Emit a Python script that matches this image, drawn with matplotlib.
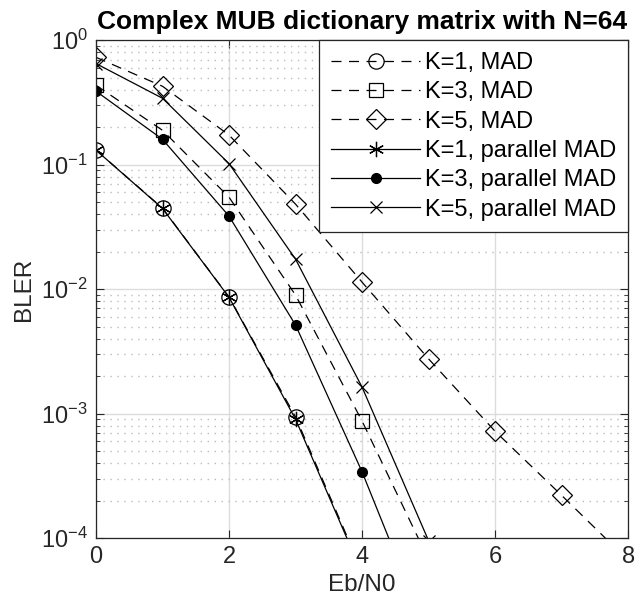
import numpy as np
import matplotlib.pyplot as plt
from matplotlib.ticker import LogLocator, NullFormatter

plt.rcParams['font.family'] = ['Liberation Sans', 'DejaVu Sans']

ebn0 = [0, 1, 2, 3, 4, 5, 6, 7, 8]

# BLER
k1_mad = [0.131, 0.0448, 0.00864, 9.4e-4, 5.4e-5]
k3_mad = [0.435, 0.189, 0.0548, 0.00895, 8.7e-4, 6.7e-5]
k5_mad = [0.73, 0.427, 0.173, 0.0482, 0.01138, 0.00275, 7.2e-4, 2.2e-4, 6.6e-5]
k1_par = [0.131, 0.0445, 0.0086, 9.0e-4, 5.2e-5]
k3_par = [0.39, 0.16, 0.0386, 0.00514, 3.4e-4, 1.6e-5]
k5_par = [0.65, 0.342, 0.102, 0.0174, 1.63e-3, 9.5e-5]

fig = plt.figure(figsize=(6.42, 6.16), dpi=100)
ax = fig.add_axes([0.1495, 0.1266, 0.829, 0.808])

dash = (0, (8, 6))
lw = 0.9
ax.semilogy(ebn0[:len(k1_mad)], k1_mad, color='black', linestyle=dash, lw=lw,
            marker='o', ms=11, mfc='none', mew=0.9, label='K=1, MAD')
ax.semilogy(ebn0[:len(k3_mad)], k3_mad, color='black', linestyle=dash, lw=lw,
            marker='s', ms=10, mfc='none', mew=0.9, label='K=3, MAD')
ax.semilogy(ebn0[:len(k5_mad)], k5_mad, color='black', linestyle=dash, lw=lw,
            marker='D', ms=10, mfc='none', mew=0.9, label='K=5, MAD')
ax.semilogy(ebn0[:len(k1_par)], k1_par, color='black', linestyle='-', lw=lw,
            marker=(6, 2, 0), ms=11, mew=0.9, label='K=1, parallel MAD')
ax.semilogy(ebn0[:len(k3_par)], k3_par, color='black', linestyle='-', lw=lw,
            marker='o', ms=7, label='K=3, parallel MAD')
ax.semilogy(ebn0[:len(k5_par)], k5_par, color='black', linestyle='-', lw=lw,
            marker='x', ms=9, mew=0.9, label='K=5, parallel MAD')

ax.set_xlim(0, 8)
ax.set_ylim(1e-4, 1)
ax.set_xticks([0, 2, 4, 6, 8])
ax.yaxis.set_major_locator(LogLocator(base=10, numticks=10))
ax.yaxis.set_minor_locator(LogLocator(base=10, subs=np.arange(2, 10), numticks=20))
ax.yaxis.set_minor_formatter(NullFormatter())

ax.grid(True, which='major', color='#dcdcdc', linewidth=1)
ax.grid(True, which='minor', axis='y', color='#bbbbbb', linestyle=(0, (1, 4)), linewidth=1)
ax.set_axisbelow(True)

ax.tick_params(which='both', direction='in', top=True, right=True, labelsize=17, colors='#262626')
ax.tick_params(which='major', length=6, pad=6)
ax.tick_params(which='minor', length=3)
for s in ax.spines.values():
    s.set_color('#262626')
    s.set_linewidth(0.9)

ax.set_xlabel('Eb/N0', fontsize=17.5, color='#262626', labelpad=4)
ax.set_ylabel('BLER', fontsize=17.5, color='#262626', labelpad=4)
ax.set_title('Complex MUB dictionary matrix with N=64', fontsize=19, fontweight='bold', pad=8)

leg = ax.legend(loc='upper right', fontsize=17, borderaxespad=0, fancybox=False,
                edgecolor='#262626', framealpha=1, handlelength=3.8,
                labelspacing=0.31, borderpad=0.5, handletextpad=0.2)
leg.get_frame().set_linewidth(0.9)

plt.savefig('out.png')
plt.close()
